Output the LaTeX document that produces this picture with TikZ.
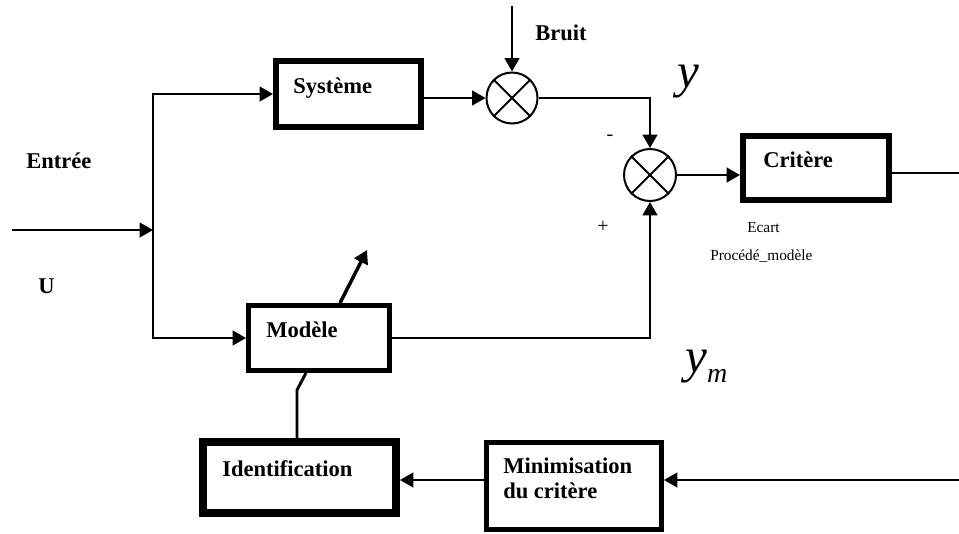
\documentclass[tikz,border=0pt]{standalone}
\usepackage{fontspec}
\setmainfont{Liberation Serif}
\usetikzlibrary{arrows.meta,calc}
\tikzset{
  blk/.style={draw, rectangle, inner sep=0pt},
  sumj/.style={draw, circle, line width=1.5pt, inner sep=0pt, minimum size=38.25pt},
  conn/.style={line width=1.6pt},
  arr/.style={conn, -{Triangle[length=10pt,width=11pt]}},
  lbl/.style={anchor=base west, inner sep=0pt, font=\fontsize{16.9}{18.75}\selectfont\bfseries, align=left},
  small/.style={anchor=base west, inner sep=0pt, font=\fontsize{11.5}{13}\selectfont},
  sign/.style={inner sep=0pt, font=\fontsize{15}{17}\selectfont}
}
\begin{document}
\begin{tikzpicture}[x=0.75pt,y=-0.75pt]
\useasboundingbox (0,0) rectangle (959,533);

% blocks
\node[blk, line width=4.5pt, minimum width=108.75pt, minimum height=49.5pt] (sys) at (348.5,94) {};
\node[blk, line width=4.5pt, minimum width=109.5pt, minimum height=48pt] (crit) at (816,168) {};
\node[blk, line width=3.75pt, minimum width=105.75pt, minimum height=48.75pt] (mod) at (319,338) {};
\node[blk, line width=6pt, minimum width=144.75pt, minimum height=53.25pt] (ident) at (299.5,477.5) {};
\node[blk, line width=3.75pt, minimum width=131.25pt, minimum height=65.25pt] (mini) at (574,486) {};

% summing junctions
\node[sumj] (s1) at (512,98) {};
\draw[line width=1.5pt] (s1.45) -- (s1.225) (s1.135) -- (s1.315);
\node[sumj, minimum size=39pt] (s2) at (650,175) {};
\draw[line width=1.5pt] (s2.45) -- (s2.225) (s2.135) -- (s2.315);

% texts in blocks
\node[lbl] (tsys) at (293,93) {Système};
\node[lbl] (tcrit) at (763,167) {Critère};
\node[lbl] (tmod) at (266,337) {Modèle};
\node[lbl] (tident) at (222,476) {Identification};
\node[lbl] (tmini) at (503,498) {Minimisation\\du critère};

% free labels
\node[lbl] (tent) at (26,168) {Entrée};
\node[lbl] (tu) at (38,293) {U};
\node[lbl] (tbruit) at (535,40) {Bruit};
\node[small] (tecart) at (747,232) {Ecart};
\node[small] (tproc) at (710,260) {Procédé\_modèle};
\node[sign] (tminus) at (610,138) {-};
\node[sign] (tplus) at (603,227) {+};
\node[anchor=base west, inner sep=0pt] (ty) at (677,87) {\fontsize{36.75}{40}\selectfont\itshape y};
\node[anchor=base west, inner sep=0pt] (tym) at (685,372) {\fontsize{36.75}{40}\selectfont\itshape y\raisebox{-7.5pt}{\fontsize{21}{24}\selectfont m}};

% coordinates
\coordinate (in) at (12,230);
\coordinate (j) at (153,230);
\coordinate (bt) at (512,6);
\coordinate (r1) at (959,173);
\coordinate (r2) at (959,480);

% connectors
\draw[arr] (in) -- (j);
\draw[arr] (j) |- (sys.west);
\draw[arr] (j) |- (mod.west);
\draw[arr] (sys.east |- s1.west) -- (s1.west);
\draw[arr] (bt) -- (s1.north);
\draw[arr] (s1.east) -| (s2.north);
\draw[arr] (s2.east) -- (s2.east -| crit.west);
\draw[conn] (r1 -| crit.east) -- (r1);
\draw[arr] (mod.east) -| (s2.south);
\draw[arr] (r2) -- (r2 -| mini.east);
\draw[arr] (r2 -| mini.west) -- (r2 -| ident.east);

% model adjustment arrow
\coordinate (da) at ($(mod.north)+(21,0)$);
\draw[line width=2.6pt, -{Triangle[length=10pt,width=11pt]}] (da) -- ++(27,-53);

% identification to model
\coordinate (k) at ($(mod.south)+(-22,17)$);
\draw[line width=2.2pt] ($(mod.south)+(-13,0)$) -- (k) -- (k |- ident.north);
\end{tikzpicture}
\end{document}
